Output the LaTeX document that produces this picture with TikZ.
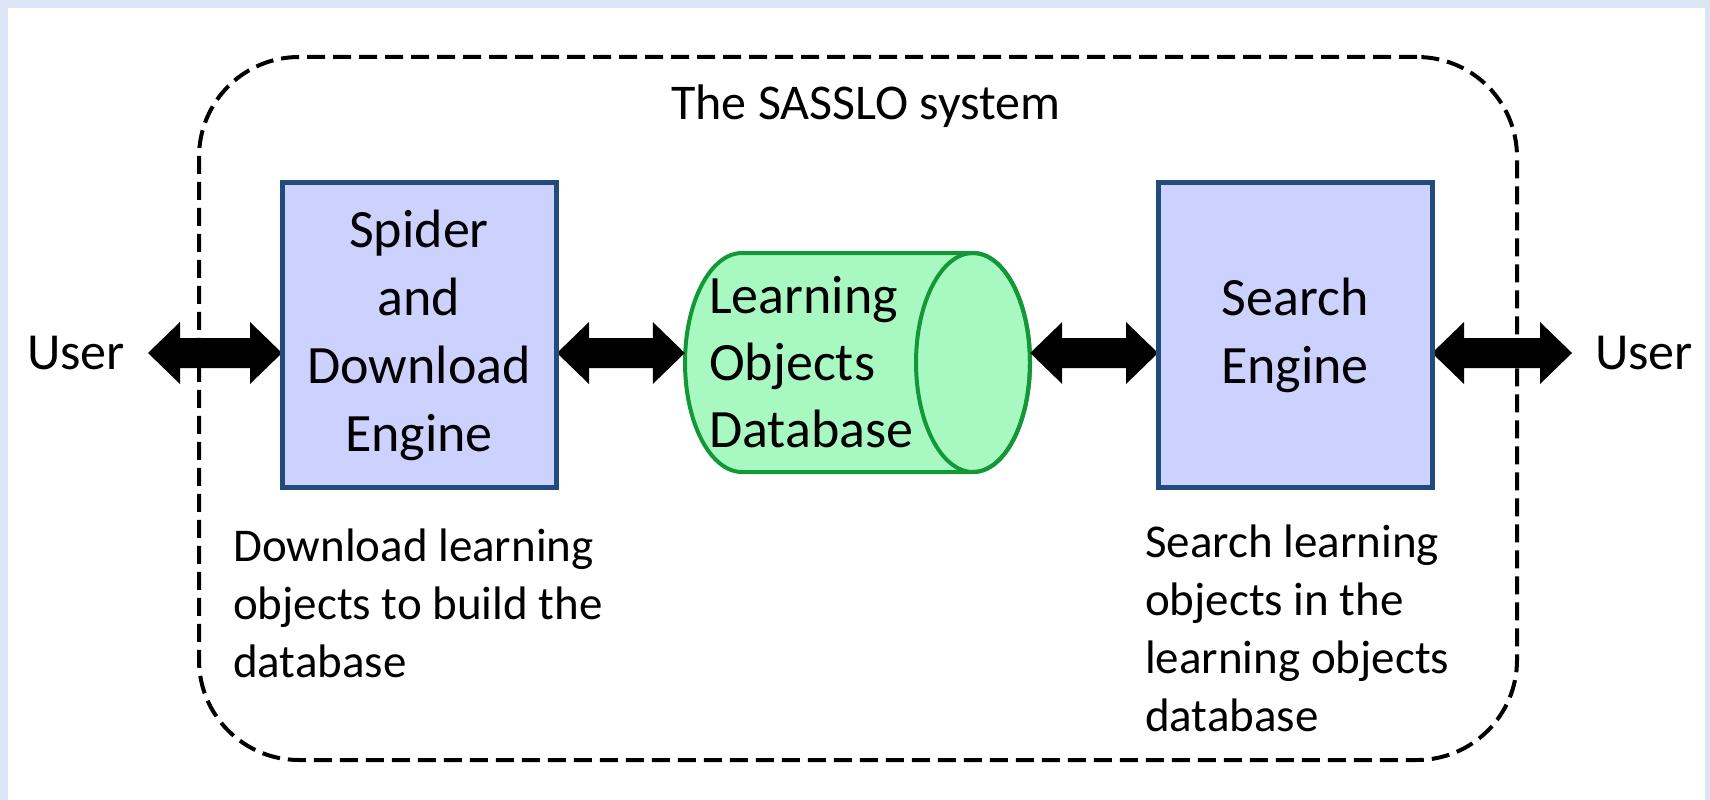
\documentclass[tikz,border=0pt]{standalone}
\usepackage{fontspec}
\setmainfont{Carlito}
\usetikzlibrary{calc}
\definecolor{bgblue}{HTML}{DDE5F4}
\definecolor{boxfill}{HTML}{CCD1FE}
\definecolor{boxdraw}{HTML}{214B7C}
\definecolor{dbfill}{HTML}{A8F8C2}
\definecolor{dbdraw}{HTML}{129836}
\newcommand\dblarrow[2]{%
  \fill[black] let \p1=(#1), \p2=(#2) in
  (\x1,\y1) -- (\x1+32pt,\y1+31pt) -- (\x1+32pt,\y1+15pt) -- (\x2-32pt,\y1+15pt)
  -- (\x2-32pt,\y1+31pt) -- (\x2,\y1) -- (\x2-32pt,\y1-31pt) -- (\x2-32pt,\y1-15pt)
  -- (\x1+32pt,\y1-15pt) -- (\x1+32pt,\y1-31pt) -- cycle;}
\begin{document}
\begin{tikzpicture}[x=1pt,y=-1pt,
  engine/.style={draw=boxdraw,fill=boxfill,line width=5pt,minimum width=274pt,minimum height=305pt,
    inner sep=0pt,align=center,font=\fontsize{54}{68}\selectfont},
  usertext/.style={inner xsep=23pt,inner ysep=0pt,font=\fontsize{52}{62}\selectfont},
  note/.style={inner sep=0pt,align=left,anchor=north west,font=\fontsize{47}{58}\selectfont},
  sysbox/.style={draw=black,line width=4pt,dash pattern=on 18pt off 8pt,rounded corners=100pt,
    minimum width=1318pt,minimum height=703pt,inner sep=0pt}]
\useasboundingbox (0,0) rectangle (1710,800);
\fill[bgblue] (0,0) rectangle (1710,800);
\fill[white] (8,8) rectangle (1705,800);
\coordinate (ay) at (0,353);
% container
\node[sysbox] (sys) at (858,408.5) {};
\node[font=\fontsize{50}{60}\selectfont] (title) at (866,106) {The SASSLO system};
% users
\node[usertext,anchor=east] (userL) at (148,353) {User};
\node[usertext,anchor=west] (userR) at (1572,353) {User};
% database (cylinder)
\node[minimum width=345pt,minimum height=219pt,inner sep=0pt] (db) at (857.5,362.5) {};
\filldraw[fill=dbfill,draw=dbdraw,line width=4pt]
  (742,253) -- (973,253) arc[start angle=-90,end angle=90,x radius=57,y radius=109.5]
  -- (742,472) arc[start angle=90,end angle=270,x radius=57,y radius=109.5] -- cycle;
\draw[dbdraw,line width=4pt] (973,362.5) ellipse[x radius=57,y radius=109.5];
\node[inner sep=0pt,align=left,anchor=west,font=\fontsize{54}{67}\selectfont] (dbtext) at (709,362) {Learning\\Objects\\Database};
% arrows
\dblarrow{userL.east}{282,353}
\dblarrow{557,353}{db.west |- ay}
\dblarrow{db.east |- ay}{1158,353}
\dblarrow{1432,353}{userR.west}
% engines
\node[engine] (spider) at (419,335) {Spider\\and\\Download\\Engine};
\node[engine] (search) at (1295,335) {Search\\Engine};
% notes
\node[note] (noteL) at (233,529) {Download learning\\objects to build the\\database};
\node[note] (noteR) at (1145,525) {Search learning\\objects in the\\learning objects\\database};
\end{tikzpicture}
\end{document}
